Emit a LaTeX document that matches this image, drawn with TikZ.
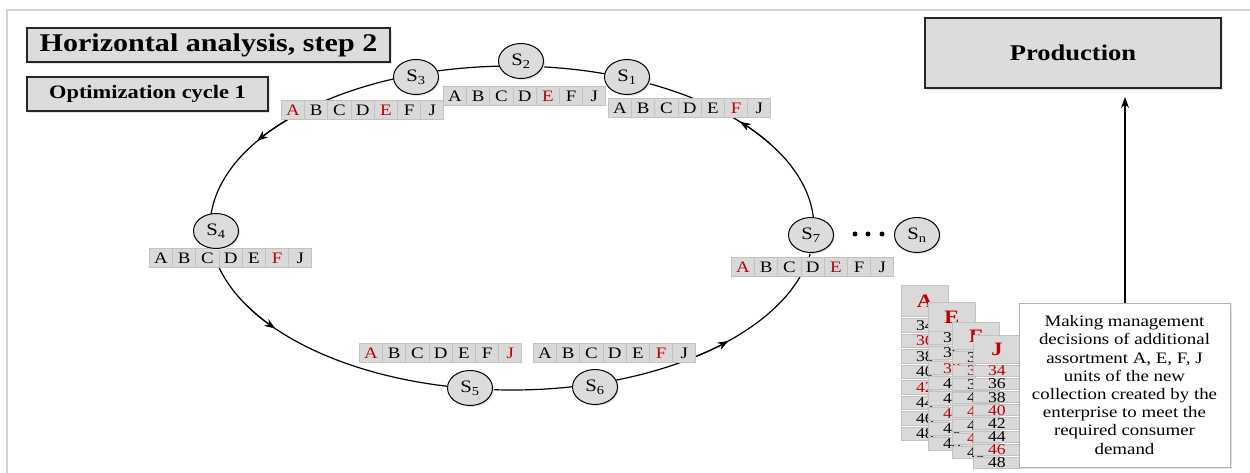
\documentclass[tikz,border=0pt]{standalone}
\usepackage{fontspec}
\setmainfont{Liberation Serif}
\usepackage{graphicx}
\usetikzlibrary{arrows.meta,shapes.geometric,shadows}
\definecolor{cellfill}{HTML}{D9D9D9}
\definecolor{cellline}{HTML}{C2C2C2}
\definecolor{boxfill}{HTML}{DCDCDC}
\definecolor{rd}{HTML}{C00000}
\definecolor{framec}{HTML}{D2D2D2}
\definecolor{shad}{HTML}{DCE4EE}
\newcommand\hs[1]{\scalebox{1.18}[1]{#1}}
\newcommand\R[1]{\textcolor{rd}{#1}}
\tikzset{
  titlebox/.style={rectangle, draw=black!85, line width=1.1pt, fill=boxfill, inner sep=0pt,
    drop shadow={shadow xshift=2pt, shadow yshift=-2pt, fill=shad, opacity=1}},
  snode/.style={ellipse, draw=black, line width=1pt, fill=boxfill, inner sep=0pt,
    minimum width=45pt, minimum height=35pt, font=\fontsize{17.5}{17.5}\selectfont,
    drop shadow={shadow xshift=1.5pt, shadow yshift=-1.5pt, fill=shad, opacity=1}},
  cellbox/.style={rectangle, draw=cellline, line width=0.9pt, fill=cellfill, inner sep=0pt,
    minimum width=23.2pt, minimum height=19pt, font=\fontsize{16}{16}\selectfont},
  cardhead/.style={rectangle, draw=cellline, line width=0.9pt, fill=cellfill, inner sep=0pt,
    minimum width=47pt, font=\fontsize{19}{19}\selectfont\bfseries\color{rd}},
  cardcell/.style={rectangle, draw=cellline, line width=0.9pt, fill=cellfill, inner sep=0pt,
    minimum width=47pt, font=\fontsize{15}{15}\selectfont},
  cyc/.style={line width=1.2pt, black},
  tip/.style={line width=1.2pt, -{Stealth[length=11pt,width=8pt]}},
  dot/.style={circle, fill=black, inner sep=0pt, minimum size=5pt}
}
\newcommand\cellrow[4]{%
  \foreach \L [count=\i from 0] in {#4} {
    \node[cellbox, anchor=north west] (#1c\i) at (#2+\i*23.2, #3) {\hs{\L}};
  }}
\newcommand\card[8]{%
  \node[cardhead, minimum height=#4pt, anchor=north west] (#1h) at (#2,#3) {\hs{#7}};
  \foreach \N [count=\i from 0] in {#8} {
    \node[cardcell, minimum height=#6pt-2pt, anchor=north west] (#1c\i) at (#2,#5+\i*#6) {\hs{\N}};
  }}
\begin{document}
\begin{tikzpicture}[x=1pt,y=-1pt]
\useasboundingbox (0,0) rectangle (1250,473);
% frame
\draw[framec, line width=1.5pt] (7,490) -- (7,10) -- (1260,10);

% cycle
\draw[cyc] (512,228) ellipse [x radius=302, y radius=162];
\draw[tip] (512,228) ++(222:302 and 162) arc [start angle=222, end angle=212.4, x radius=302, y radius=162];
\draw[tip] (512,228) ++(151:302 and 162) arc [start angle=151, end angle=141.6, x radius=302, y radius=162];
\draw[tip] (512,228) ++(55:302 and 162) arc [start angle=55, end angle=44.2, x radius=302, y radius=162];
\draw[tip] (512,228) ++(-31:302 and 162) arc [start angle=-31, end angle=-41, x radius=302, y radius=162];

% title boxes
\node[titlebox, minimum width=363pt, minimum height=34pt, font=\fontsize{25.5}{25.5}\selectfont\bfseries] (title) at (208.5,45) {\hs{Horizontal analysis, step 2}};
\node[titlebox, minimum width=241pt, minimum height=34pt, font=\fontsize{19}{19}\selectfont\bfseries] (cycle) at (147.5,94) {\hs{Optimization cycle 1}};
\node[titlebox, minimum width=296pt, minimum height=70pt, font=\fontsize{22.5}{22.5}\selectfont\bfseries] (prod) at (1073,53) {\hs{Production}};

% rows of cells
\cellrow{rthree}{281}{100}{\R{A},B,C,D,\R{E},F,J}
\cellrow{rtwo}{443}{86}{A,B,C,D,\R{E},F,J}
\cellrow{rone}{608}{98}{A,B,C,D,E,\R{F},J}
\cellrow{rfour}{149}{248}{A,B,C,D,E,\R{F},J}
\cellrow{rseven}{731}{257}{\R{A},B,C,D,\R{E},F,J}
\cellrow{rfive}{359}{343}{\R{A},B,C,D,E,F,\R{J}}
\cellrow{rsix}{533}{343}{A,B,C,D,E,\R{F},J}

% states
\node[snode] (s1) at (627,77) {\hs{S\textsubscript{1}}};
\node[snode] (s2) at (521,61) {\hs{S\textsubscript{2}}};
\node[snode] (s3) at (416,77) {\hs{S\textsubscript{3}}};
\node[snode] (s4) at (216,231) {\hs{S\textsubscript{4}}};
\node[snode] (s5) at (470,388) {\hs{S\textsubscript{5}}};
\node[snode] (s6) at (595,387) {\hs{S\textsubscript{6}}};
\node[snode] (s7) at (811,235) {\hs{S\textsubscript{7}}};
\node[snode] (sn) at (917,235) {\hs{S\textsubscript{n}}};
\node[dot] (d1) at (855,234) {};
\node[dot] (d2) at (868,234) {};
\node[dot] (d3) at (882,234) {};

% cards
\card{ca}{901}{285}{31}{318}{15.5}{A}{34,\R{36},38,40,\R{42},44,46,48}
\card{ce}{928}{302}{29}{331}{15.1}{E}{34,36,\R{38},40,42,\R{44},46,48}
\card{cf}{952}{322}{27}{351}{13.6}{F}{34,\R{36},38,40,\R{42},44,\R{46},48}
\card{cj}{973}{335}{28}{365}{13.1}{J}{\R{34},36,38,\R{40},42,44,\R{46},48}

% decision box
\node[rectangle, draw=black!30, line width=1pt, fill=white, minimum width=211pt, minimum height=164pt,
  drop shadow={shadow xshift=2pt, shadow yshift=-2pt, fill=shad, opacity=1}] (dec) at (1124.5,385) {};
\node[xscale=1.18, align=center, font=\fontsize{16}{18.2}\selectfont] (dectext) at (dec.center)
  {Making management\\decisions of additional\\assortment A, E, F, J\\units of the new\\collection created by the\\enterprise to meet the\\required consumer\\demand};
\coordinate (prodin) at (1125,97);
\draw[line width=1.1pt, -{Stealth[length=11pt,width=8pt]}] (dec.north -| prodin) -- (prodin);
\end{tikzpicture}
\end{document}
